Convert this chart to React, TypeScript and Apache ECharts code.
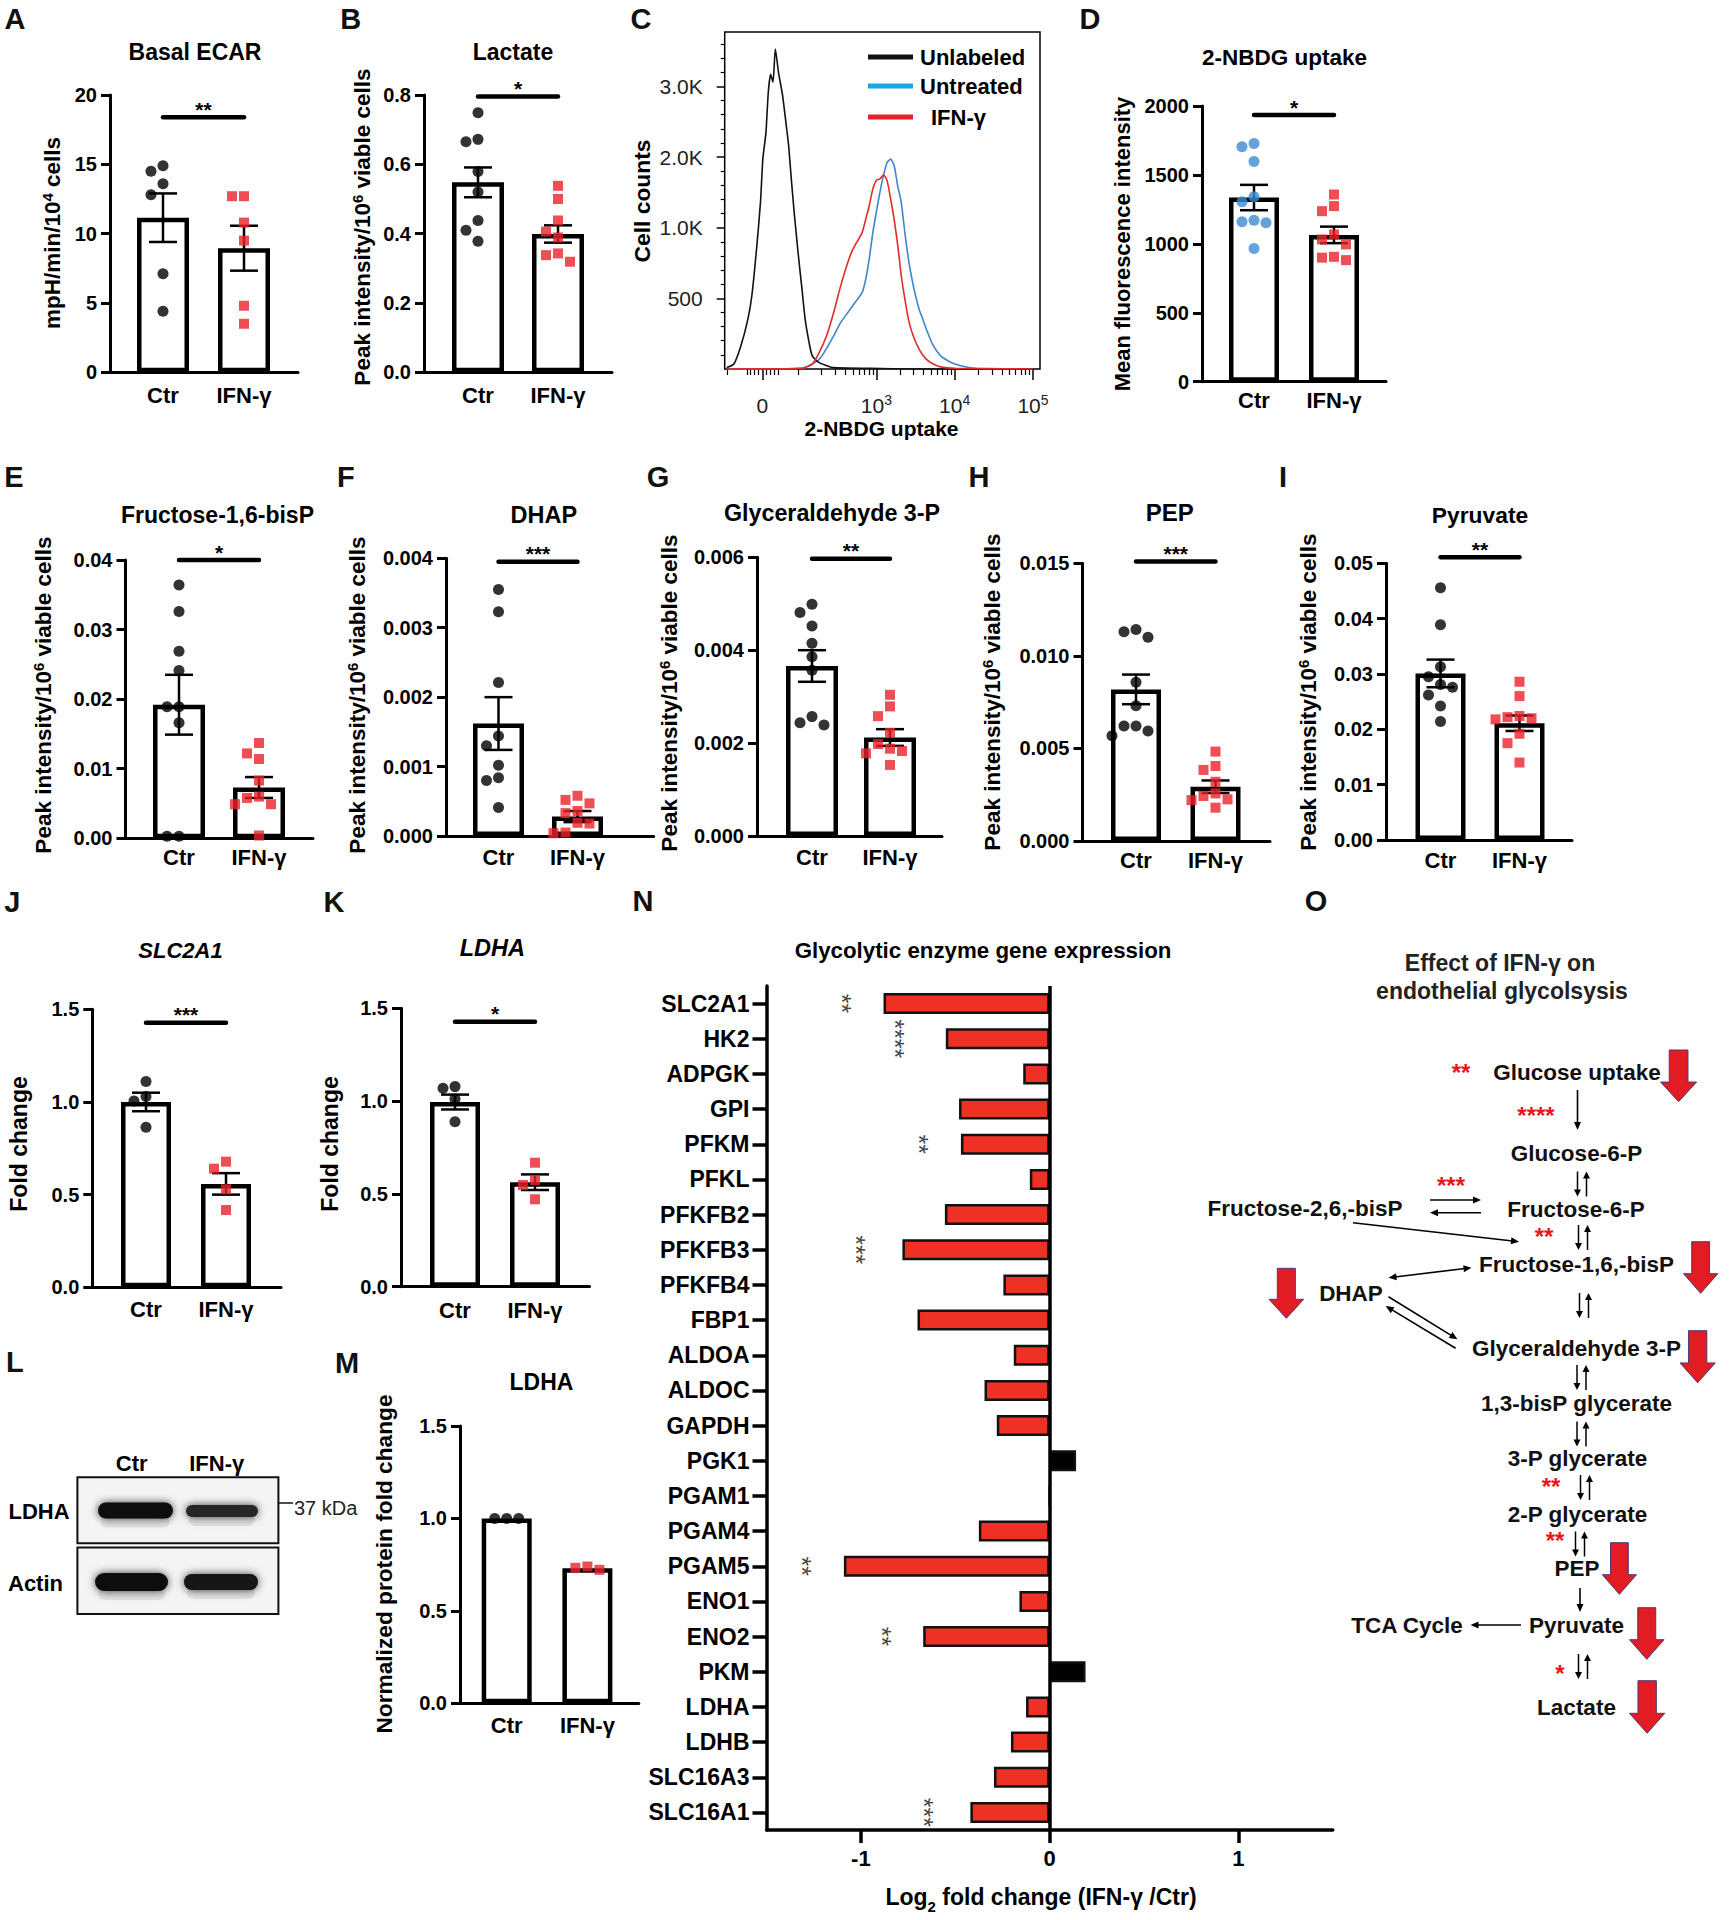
import React, { useEffect, useRef } from 'react';
import * as echarts from 'echarts';

const FONT = "'Liberation Sans', Arial, Helvetica, sans-serif";
const GROUPS = ['Ctr', 'IFN-\u03b3'];

// ---------- A: Basal ECAR ----------
const A_CTR = [14.9, 14.5, 13.6, 12.8, 7.1, 4.4];
const A_IFN = [12.7, 12.7, 10.8, 9.5, 4.8, 3.5];
const A_MEAN = [11.15, 8.95];
const A_SEM = [1.75, 1.62];
// ---------- B: Lactate ----------
const B_CTR = [0.749, 0.672, 0.665, 0.579, 0.52, 0.438, 0.41, 0.378];
const B_IFN = [0.538, 0.5, 0.438, 0.406, 0.389, 0.343, 0.338, 0.319];
const B_MEAN = [0.548, 0.399];
const B_SEM = [0.043, 0.025];
// ---------- C: 2-NBDG histogram (display units) ----------
const UNL_X = [1.09, 1.18, 1.27, 1.36, 1.41, 1.47, 1.52, 1.55, 1.59, 1.62, 1.65, 1.68, 1.71, 1.75, 1.8, 1.85, 1.88, 1.91, 1.95, 2.0, 2.05, 2.09, 2.14, 2.18, 2.27, 2.36, 2.45, 2.91, 3.5, 4.2, 5.0];
const UNL_Y = [0.02, 0.07, 0.33, 0.71, 1.04, 1.7, 2.36, 2.97, 3.35, 3.92, 4.17, 4.06, 4.53, 4.2, 3.89, 3.44, 3.16, 2.74, 2.22, 1.65, 1.13, 0.71, 0.38, 0.19, 0.09, 0.05, 0.02, 0.01, 0.0, 0.0, 0.0];
const UNT_X = [1.09, 2.045, 2.273, 2.455, 2.545, 2.636, 2.727, 2.818, 2.864, 2.909, 2.955, 3.0, 3.045, 3.091, 3.136, 3.182, 3.227, 3.273, 3.318, 3.364, 3.409, 3.455, 3.5, 3.545, 3.591, 3.636, 3.727, 3.818, 3.909, 4.0, 4.182, 4.273, 5.0];
const UNT_Y = [0.0, 0.01, 0.14, 0.47, 0.66, 0.8, 0.94, 1.08, 1.27, 1.56, 1.93, 2.22, 2.5, 2.74, 2.92, 2.97, 2.88, 2.59, 2.36, 1.93, 1.56, 1.27, 1.04, 0.85, 0.71, 0.57, 0.33, 0.19, 0.12, 0.07, 0.02, 0.01, 0.0];
const IFN_X = [1.09, 2.045, 2.182, 2.273, 2.364, 2.455, 2.545, 2.636, 2.682, 2.727, 2.818, 2.864, 2.909, 2.955, 3.0, 3.045, 3.091, 3.136, 3.182, 3.227, 3.273, 3.318, 3.364, 3.409, 3.455, 3.545, 3.636, 3.727, 3.818, 4.0, 5.0];
const IFN_Y = [0.0, 0.01, 0.07, 0.24, 0.47, 0.8, 1.18, 1.51, 1.65, 1.75, 1.93, 2.12, 2.31, 2.55, 2.67, 2.69, 2.75, 2.67, 2.41, 2.12, 1.75, 1.32, 0.99, 0.71, 0.52, 0.28, 0.14, 0.07, 0.03, 0.01, 0.0];
const C_X_MAJOR = [1.545, 3, 4, 5];
const C_X_LABELS = ['{b|0}', '{b|10}{s|3}', '{b|10}{s|4}', '{b|10}{s|5}'];
const C_Y_MAJOR = [1, 2, 3, 4];
const C_Y_LABELS = ['500', '1.0K', '2.0K', '3.0K'];
const C_LEGEND = ['Unlabeled', 'Untreated', 'IFN-\u03b3'];
// ---------- D: 2-NBDG uptake ----------
const D_CTR = [1728, 1705, 1598, 1341, 1305, 1172, 1160, 1153, 967];
const D_IFN = [1358, 1274, 1237, 1068, 1032, 996, 906, 900, 882];
const D_MEAN = [1336, 1065];
const D_SEM = [92, 60];
// ---------- E: Fructose-1,6-bisP ----------
const E_CTR = [0.0364, 0.0326, 0.0269, 0.0241, 0.0189, 0.0189, 0.0166, 0.0003, 0.0003];
const E_IFN = [0.0137, 0.0122, 0.0114, 0.0083, 0.006, 0.0058, 0.0049, 0.0049, 0.0004];
const E_MEAN = [0.0192, 0.0073];
const E_SEM = [0.0043, 0.0015];
// ---------- F: DHAP ----------
const F_CTR = [0.00355, 0.00323, 0.00221, 0.00144, 0.0013, 0.00102, 0.00084, 0.0008, 0.00041];
const F_IFN = [0.00058, 0.00052, 0.00047, 0.00036, 0.00033, 0.00019, 0.00018, 0.00005, 0.00004];
const F_MEAN = [0.00162, 0.00028];
const F_SEM = [0.00038, 0.00008];
// ---------- G: Glyceraldehyde 3-P ----------
const G_CTR = [0.00499, 0.00481, 0.00452, 0.00415, 0.00386, 0.00357, 0.00257, 0.00244, 0.00239];
const G_IFN = [0.00304, 0.00279, 0.00258, 0.00222, 0.00198, 0.00188, 0.00183, 0.00178, 0.00153];
const G_MEAN = [0.00366, 0.00212];
const G_SEM = [0.00034, 0.00018];
// ---------- H: PEP ----------
const H_CTR = [0.01143, 0.0113, 0.011, 0.00857, 0.00731, 0.00621, 0.00621, 0.00594, 0.00569];
const H_IFN = [0.00483, 0.00405, 0.00384, 0.0032, 0.00257, 0.00243, 0.00225, 0.00221, 0.0018];
const H_MEAN = [0.00819, 0.00293];
const H_SEM = [0.0008, 0.00034];
// ---------- I: Pyruvate ----------
const I_CTR = [0.0456, 0.0389, 0.0313, 0.0295, 0.0281, 0.0276, 0.0262, 0.0242, 0.0214];
const I_IFN = [0.0286, 0.026, 0.0224, 0.0222, 0.022, 0.0218, 0.0192, 0.0175, 0.014];
const I_MEAN = [0.0301, 0.0211];
const I_SEM = [0.0025, 0.0014];
// ---------- J: SLC2A1 ----------
const J_CTR = [1.11, 1.029, 1.005, 0.863];
const J_IFN = [0.678, 0.64, 0.529, 0.417];
const J_MEAN = [1.0, 0.558];
const J_SEM = [0.05, 0.058];
// ---------- K: LDHA ----------
const K_CTR = [1.078, 1.069, 1.011, 0.889];
const K_IFN = [0.668, 0.575, 0.548, 0.471];
const K_MEAN = [0.995, 0.563];
const K_SEM = [0.04, 0.042];
// ---------- M: LDHA protein ----------
const M_CTR = [1.0, 1.0, 1.0];
const M_IFN = [0.722, 0.74, 0.733];
const M_MEAN = [1.0, 0.73];
// ---------- N: gene expression ----------
const GENES = ['SLC2A1', 'HK2', 'ADPGK', 'GPI', 'PFKM', 'PFKL', 'PFKFB2', 'PFKFB3', 'PFKFB4', 'FBP1', 'ALDOA', 'ALDOC', 'GAPDH', 'PGK1', 'PGAM1', 'PGAM4', 'PGAM5', 'ENO1', 'ENO2', 'PKM', 'LDHA', 'LDHB', 'SLC16A3', 'SLC16A1'];
const GENE_LOG2FC = [-0.88, -0.55, -0.14, -0.48, -0.47, -0.105, -0.555, -0.78, -0.245, -0.7, -0.19, -0.345, -0.28, 0.14, 0, -0.375, -1.09, -0.16, -0.67, 0.19, -0.125, -0.205, -0.295, -0.42];
const GENE_SIG = ['**', '****', '', '', '**', '', '', '***', '', '', '', '', '', '', '', '', '**', '', '**', '', '', '', '', '***'];
const N_TICKS = [-1, 0, 1];

// ---------- panel definitions ----------
const PANELS: any[] = [
  { ctr: A_CTR, ifn: A_IFN, mean: A_MEAN, sem: A_SEM, yMax: 20, yInt: 5, dec: 0, sig: 18.4, stars: '**', dot: '#000',
    box: { left: 110, right: 298, top: 95, bottom: 372.3, ctrX: 163, ifnX: 244, barW: 52, labelY: 395 } },
  { ctr: B_CTR, ifn: B_IFN, mean: B_MEAN, sem: B_SEM, yMax: 0.8, yInt: 0.2, dec: 1, sig: 0.796, stars: '*', dot: '#000',
    box: { left: 424, right: 612, top: 95, bottom: 372.3, ctrX: 478, ifnX: 558, barW: 52, labelY: 395 } },
  { ctr: D_CTR, ifn: D_IFN, mean: D_MEAN, sem: D_SEM, yMax: 2000, yInt: 500, dec: 0, sig: 1934, stars: '*', dot: '#3d8bd3',
    box: { left: 1202, right: 1386, top: 106, bottom: 381.7, ctrX: 1254, ifnX: 1334, barW: 50, labelY: 400 } },
  { ctr: E_CTR, ifn: E_IFN, mean: E_MEAN, sem: E_SEM, yMax: 0.04, yInt: 0.01, dec: 2, sig: 0.04, stars: '*', dot: '#000',
    box: { left: 125.5, right: 313, top: 560, bottom: 838.3, ctrX: 179, ifnX: 259, barW: 52, labelY: 857 } },
  { ctr: F_CTR, ifn: F_IFN, mean: F_MEAN, sem: F_SEM, yMax: 0.004, yInt: 0.001, dec: 3, sig: 0.00395, stars: '***', dot: '#000',
    box: { left: 446, right: 653.6, top: 558.3, bottom: 836, ctrX: 498.5, ifnX: 577.5, barW: 51, labelY: 857 } },
  { ctr: G_CTR, ifn: G_IFN, mean: G_MEAN, sem: G_SEM, yMax: 0.006, yInt: 0.002, dec: 3, sig: 0.00597, stars: '**', dot: '#000',
    box: { left: 757, right: 942, top: 557.3, bottom: 836, ctrX: 812, ifnX: 890, barW: 52, labelY: 857 } },
  { ctr: H_CTR, ifn: H_IFN, mean: H_MEAN, sem: H_SEM, yMax: 0.015, yInt: 0.005, dec: 3, sig: 0.0151, stars: '***', dot: '#000',
    box: { left: 1082.5, right: 1270, top: 563.3, bottom: 841, ctrX: 1136, ifnX: 1215.5, barW: 50, labelY: 860 } },
  { ctr: I_CTR, ifn: I_IFN, mean: I_MEAN, sem: I_SEM, yMax: 0.05, yInt: 0.01, dec: 2, sig: 0.0511, stars: '**', dot: '#000',
    box: { left: 1386, right: 1572, top: 563.3, bottom: 840, ctrX: 1440.5, ifnX: 1519.5, barW: 50, labelY: 860 } },
  { ctr: J_CTR, ifn: J_IFN, mean: J_MEAN, sem: J_SEM, yMax: 1.5, yInt: 0.5, dec: 1, sig: 1.428, stars: '***', dot: '#000',
    box: { left: 92.3, right: 281, top: 1009.3, bottom: 1287.3, ctrX: 146, ifnX: 226, barW: 50, labelY: 1309 } },
  { ctr: K_CTR, ifn: K_IFN, mean: K_MEAN, sem: K_SEM, yMax: 1.5, yInt: 0.5, dec: 1, sig: 1.428, stars: '*', dot: '#000',
    box: { left: 401, right: 589.5, top: 1008.3, bottom: 1286.7, ctrX: 455, ifnX: 535, barW: 50, labelY: 1310 } },
  { ctr: M_CTR, ifn: M_IFN, mean: M_MEAN, sem: null, yMax: 1.5, yInt: 0.5, dec: 1, sig: null, stars: '', dot: '#000',
    box: { left: 460, right: 638.8, top: 1426, bottom: 1703.3, ctrX: 506.7, ifnX: 587.4, barW: 50, labelY: 1725 } },
];

const RED = '#e8232a';

// beeswarm placement: offsets (in x data units) so symbols do not overlap
function swarmOffsets(vals: number[], pxPerUnit: number, sym: number, spacingPx: number) {
  const order = vals.map((_, i) => i).sort((a, b) => vals[b] - vals[a]);
  const placed: { x: number; y: number }[] = [];
  const offs = new Array(vals.length).fill(0);
  const step = sym + 1;
  order.forEach((i) => {
    const y = vals[i] * pxPerUnit;
    for (let k = 0; k < 40; k++) {
      const m = Math.ceil(k / 2) * (k % 2 === 1 ? -1 : 1);
      const x = m * step;
      if (placed.every((p) => Math.hypot(p.x - x, p.y - y) >= sym + 0.5)) {
        placed.push({ x, y });
        offs[i] = x / spacingPx;
        break;
      }
    }
  });
  return offs;
}

function addDotPanel(opt: any, p: any) {
  const gi = opt.grid.length;
  const xi = opt.xAxis.length;
  const yi = opt.yAxis.length;
  const b = p.box;
  const sp = b.ifnX - b.ctrX;
  const xmin = -(b.ctrX - b.left) / sp;
  const xmax = 1 + (b.right - b.ifnX) / sp;
  opt.grid.push({ left: b.left, top: b.top, width: b.right - b.left, height: b.bottom - b.top });
  opt.xAxis.push({
    gridIndex: gi, type: 'value', min: xmin, max: xmax, position: 'bottom',
    axisLine: { show: true, onZero: false, lineStyle: { color: '#000', width: 3 } },
    axisTick: { show: false }, splitLine: { show: false },
    axisLabel: { customValues: [0, 1], formatter: (v: number) => GROUPS[Math.round(v)], color: '#000', fontFamily: FONT, fontWeight: 'bold', fontSize: 22, margin: b.labelY - b.bottom - 11 },
  });
  opt.yAxis.push({
    gridIndex: gi, type: 'value', min: 0, max: p.yMax, interval: p.yInt, position: 'left',
    axisLine: { show: true, onZero: false, lineStyle: { color: '#000', width: 3 } },
    axisTick: { show: true, length: 9, lineStyle: { color: '#000', width: 3 } },
    splitLine: { show: false },
    axisLabel: { formatter: (v: number) => v.toFixed(p.dec), color: '#000', fontFamily: FONT, fontWeight: 'bold', fontSize: 20, margin: 13 },
  });
  const ax = { xAxisIndex: xi, yAxisIndex: yi };
  opt.series.push({
    type: 'bar', ...ax, barWidth: b.barW, silent: true, z: 2,
    data: [[0, p.mean[0]], [1, p.mean[1]]],
    itemStyle: { color: '#fff', borderColor: '#000', borderWidth: 4.5 },
  });
  if (p.sem) {
    opt.series.push({
      type: 'custom', ...ax, silent: true, z: 3, clip: false,
      data: [0, 1].map((k) => [k, p.mean[k] - p.sem[k], p.mean[k] + p.sem[k]]),
      encode: { x: 0, y: [1, 2] },
      renderItem: (params: any, api: any) => {
        const x = api.value(0);
        const a = api.coord([x, api.value(1)]);
        const c = api.coord([x, api.value(2)]);
        const st = { stroke: '#000', lineWidth: 2.5 };
        return {
          type: 'group', children: [
            { type: 'line', shape: { x1: a[0], y1: a[1], x2: c[0], y2: c[1] }, style: st },
            { type: 'line', shape: { x1: a[0] - 14, y1: a[1], x2: a[0] + 14, y2: a[1] }, style: st },
            { type: 'line', shape: { x1: c[0] - 14, y1: c[1], x2: c[0] + 14, y2: c[1] }, style: st },
          ],
        };
      },
    });
  }
  const pxPerUnit = (b.bottom - b.top) / p.yMax;
  const oc = swarmOffsets(p.ctr, pxPerUnit, 11, sp);
  const oi = swarmOffsets(p.ifn, pxPerUnit, 11, sp);
  opt.series.push({
    type: 'scatter', ...ax, silent: true, z: 4, symbol: 'circle', symbolSize: 11,
    itemStyle: { color: p.dot }, data: p.ctr.map((v: number, i: number) => [oc[i], v]),
  });
  opt.series.push({
    type: 'scatter', ...ax, silent: true, z: 4, symbol: 'rect', symbolSize: 10,
    itemStyle: { color: RED }, data: p.ifn.map((v: number, i: number) => [1 + oi[i], v]),
  });
  if (p.sig != null) {
    opt.series.push({
      type: 'custom', ...ax, silent: true, z: 3, clip: false,
      data: [[0, 1, p.sig]],
      renderItem: (params: any, api: any) => {
        const a = api.coord([api.value(0), api.value(2)]);
        const c = api.coord([api.value(1), api.value(2)]);
        return {
          type: 'group', children: [
            { type: 'line', shape: { x1: a[0], y1: a[1], x2: c[0], y2: c[1] }, style: { stroke: '#000', lineWidth: 4.5, lineCap: 'round' } },
            { type: 'text', x: (a[0] + c[0]) / 2, y: a[1] - 8, style: { text: p.stars, fill: '#000', fontSize: 21, fontWeight: 'bold', fontFamily: FONT, align: 'center', verticalAlign: 'middle' } },
          ],
        };
      },
    });
  }
}

function txt(x: number, y: number, text: string, size: number, o: any = {}) {
  return {
    type: 'text', x, y, rotation: o.rot || 0, silent: true, z: 10,
    style: {
      text, fontSize: size, fontFamily: FONT, fontWeight: o.weight || 'bold', fontStyle: o.italic ? 'italic' : 'normal',
      fill: o.color || '#000', align: o.align || 'center', verticalAlign: 'middle',
    },
  };
}

function supLabel(x: number, y: number, a: string, s: string, c: string, size: number) {
  return {
    type: 'text', x, y, rotation: Math.PI / 2, silent: true, z: 10,
    style: {
      text: `{m|${a}}{s|${s}}{m|${c}}`, align: 'center', verticalAlign: 'middle', fill: '#000',
      rich: {
        m: { fontSize: size, fontWeight: 'bold', fontFamily: FONT, fill: '#000', lineHeight: 25, verticalAlign: 'middle' },
        s: { fontSize: Math.round(size * 0.65), fontWeight: 'bold', fontFamily: FONT, fill: '#000', lineHeight: 16, verticalAlign: 'top' },
      },
    },
  };
}

function arrowEls(x1: number, y1: number, x2: number, y2: number, o: any = {}) {
  const w = o.w || 1.6, hl = o.hl || 8, hw = o.hw || 3.5, both = !!o.both;
  const dx = x2 - x1, dy = y2 - y1, L = Math.hypot(dx, dy);
  const ux = dx / L, uy = dy / L, nx = -uy, ny = ux;
  const head = (tx: number, ty: number, sx: number, sy: number) => ({
    type: 'polygon', silent: true, z: 10,
    shape: { points: [[tx, ty], [tx - sx * hl + nx * hw, ty - sy * hl + ny * hw], [tx - sx * hl - nx * hw, ty - sy * hl - ny * hw]] },
    style: { fill: '#000' },
  });
  const sx = both ? x1 + ux * hl * 0.8 : x1, sy = both ? y1 + uy * hl * 0.8 : y1;
  const ex = x2 - ux * hl * 0.8, ey = y2 - uy * hl * 0.8;
  const els: any[] = [{ type: 'line', silent: true, z: 10, shape: { x1: sx, y1: sy, x2: ex, y2: ey }, style: { stroke: '#000', lineWidth: w } }, head(x2, y2, ux, uy)];
  if (both) els.push(head(x1, y1, -ux, -uy));
  return els;
}

function updown(cx: number, cy: number) {
  return [
    ...arrowEls(cx - 4.5, cy - 12.5, cx - 4.5, cy + 12.5, { hl: 7, hw: 3.5, w: 1.5 }),
    ...arrowEls(cx + 4.5, cy + 12.5, cx + 4.5, cy - 12.5, { hl: 7, hw: 3.5, w: 1.5 }),
  ];
}

function blockArrow(x0: number, x1: number, y0: number, y1: number) {
  const w = x1 - x0, h = y1 - y0;
  const s0 = x0 + w * 0.24, s1 = x1 - w * 0.24, hy = y1 - h * 0.38, mid = (x0 + x1) / 2;
  return {
    type: 'polygon', silent: true, z: 10,
    shape: { points: [[s0, y0], [s1, y0], [s1, hy], [x1, hy], [mid, y1], [x0, hy], [s0, hy]] },
    style: { fill: '#e31b23', stroke: '#4b3b78', lineWidth: 1 },
  };
}

function band(x: number, y: number, w: number, h: number, color: string) {
  return [
    { type: 'rect', silent: true, z: 9, shape: { x: x + 3, y: y + h - 3, width: w - 6, height: 12, r: 6 }, style: { fill: 'rgba(0,0,0,0.08)', shadowBlur: 10, shadowColor: 'rgba(0,0,0,0.2)' } },
    { type: 'rect', silent: true, z: 10, shape: { x, y, width: w, height: h, r: h / 2 }, style: { fill: color, shadowBlur: 9, shadowColor: 'rgba(0,0,0,0.75)' } },
  ];
}

function buildOption() {
  const opt: any = { animation: false, backgroundColor: '#fff', grid: [], xAxis: [], yAxis: [], series: [], graphic: [] };

  PANELS.forEach((p) => addDotPanel(opt, p));

  // ---------- C histogram ----------
  const gC = opt.grid.length;
  opt.grid.push({ left: 724.7, top: 32, width: 315.3, height: 337, show: true, borderColor: '#000', borderWidth: 1.5, backgroundColor: 'rgba(0,0,0,0)' });
  const xMinor: number[] = [];
  [2, 3, 4].forEach((d) => { for (let k = 1; k <= 9; k++) { const u = d + Math.log10(k); if (!C_X_MAJOR.includes(u)) xMinor.push(u); } });
  [1, 2, 3, 4].forEach((k) => { xMinor.push(1.545 + k * 0.05); xMinor.push(1.545 - k * 0.05); });
  xMinor.push(1.09);
  const yMinor: number[] = [];
  for (let k = 1; k <= 23; k++) { if (k % 5 !== 0) yMinor.push(k * 0.2); }
  const cxBase = { gridIndex: gC, type: 'value', min: 1.063, max: 5.09, position: 'bottom', splitLine: { show: false }, axisLine: { show: false, onZero: false } };
  const cxMajorIdx = opt.xAxis.length;
  opt.xAxis.push({
    ...cxBase,
    axisTick: { show: true, customValues: C_X_MAJOR, length: 11, lineStyle: { color: '#000', width: 1.5 } },
    axisLabel: {
      customValues: C_X_MAJOR, margin: 24, color: '#222',
      formatter: (v: number) => C_X_LABELS[C_X_MAJOR.findIndex((m) => Math.abs(m - v) < 1e-6)] || '',
      rich: {
        b: { fontSize: 21, fontFamily: FONT, color: '#222', lineHeight: 24, verticalAlign: 'middle' },
        s: { fontSize: 14, fontFamily: FONT, color: '#222', lineHeight: 16, verticalAlign: 'top' },
      },
    },
  });
  opt.xAxis.push({ ...cxBase, axisTick: { show: true, customValues: xMinor, length: 6, lineStyle: { color: '#000', width: 1.2 } }, axisLabel: { show: false } });
  const cyBase = { gridIndex: gC, type: 'value', min: 0, max: 4.77, position: 'left', splitLine: { show: false }, axisLine: { show: false, onZero: false } };
  const cyMajorIdx = opt.yAxis.length;
  opt.yAxis.push({
    ...cyBase,
    axisTick: { show: true, customValues: C_Y_MAJOR, length: 8, lineStyle: { color: '#000', width: 1.5 } },
    axisLabel: { customValues: C_Y_MAJOR, formatter: (v: number) => C_Y_LABELS[Math.round(v) - 1] || '', fontSize: 21, fontFamily: FONT, color: '#222', margin: 22 },
  });
  opt.yAxis.push({ ...cyBase, axisTick: { show: true, customValues: yMinor, length: 4, lineStyle: { color: '#000', width: 1.2 } }, axisLabel: { show: false } });
  const curve = (xs: number[], ys: number[], color: string, z: number) => ({
    type: 'line', xAxisIndex: cxMajorIdx, yAxisIndex: cyMajorIdx, silent: true, z, symbol: 'none', smooth: 0.2,
    lineStyle: { color, width: 1.6 }, data: xs.map((x, i) => [x, ys[i]]),
  });
  opt.series.push(curve(UNL_X, UNL_Y, '#111', 5));
  opt.series.push(curve(UNT_X, UNT_Y, '#3f86cc', 4));
  opt.series.push(curve(IFN_X, IFN_Y, '#e32a2a', 5));

  // ---------- N horizontal bars ----------
  const gN = opt.grid.length;
  const nxi = opt.xAxis.length;
  const nyi = opt.yAxis.length;
  opt.grid.push({ left: 766.5, top: 986, width: 566.3, height: 844 });
  opt.xAxis.push({
    gridIndex: gN, type: 'value', min: -1.5, max: 1.5, position: 'bottom', splitLine: { show: false },
    axisLine: { show: true, onZero: false, lineStyle: { color: '#000', width: 3.5 } },
    axisTick: { show: true, customValues: N_TICKS, length: 13, lineStyle: { color: '#000', width: 3.5 } },
    axisLabel: { customValues: N_TICKS, fontSize: 22, fontWeight: 'bold', fontFamily: FONT, color: '#000', margin: 17 },
  });
  opt.yAxis.push({
    gridIndex: gN, type: 'category', data: GENES, inverse: true, position: 'left', splitLine: { show: false },
    axisLine: { show: true, onZero: false, lineStyle: { color: '#000', width: 3.5 } },
    axisTick: { show: true, alignWithLabel: true, interval: 0, length: 14, lineStyle: { color: '#000', width: 3.5 } },
    axisLabel: { interval: 0, fontSize: 23, fontWeight: 'bold', fontFamily: FONT, color: '#000', margin: 17 },
  });
  opt.series.push({
    type: 'bar', xAxisIndex: nxi, yAxisIndex: nyi, barWidth: 21, silent: true, z: 3,
    itemStyle: { color: '#ee3124', borderColor: '#111', borderWidth: 2.5 },
    data: GENE_LOG2FC.map((v) => (v > 0 ? { value: v, itemStyle: { color: '#000' } } : { value: v })),
    markLine: { silent: true, symbol: ['none', 'none'], label: { show: false }, lineStyle: { color: '#000', width: 3.5, type: 'solid' }, data: [{ xAxis: 0 }] },
  });
  opt.series.push({
    type: 'scatter', xAxisIndex: nxi, yAxisIndex: nyi, silent: true, z: 5, symbolSize: 1, itemStyle: { color: 'rgba(0,0,0,0)' },
    label: { show: true, position: 'inside', rotate: -90, fontSize: 25, fontFamily: FONT, color: '#111' },
    data: GENES.map((g, i) => (GENE_SIG[i] ? { value: [GENE_LOG2FC[i] - (0.17 + 0.025 * GENE_SIG[i].length), g], label: { formatter: GENE_SIG[i] } } : null)).filter(Boolean),
  });

  // ---------- graphic: letters, titles, axis names ----------
  const G: any[] = [];
  const letters: [string, number, number][] = [
    ['A', 15, 19], ['B', 350.6, 19], ['C', 641, 19], ['D', 1090, 19],
    ['E', 14, 477], ['F', 345.8, 477], ['G', 658, 477], ['H', 979, 477], ['I', 1283, 477],
    ['J', 12.3, 902], ['K', 334, 902], ['N', 643, 901], ['O', 1316, 901], ['L', 14.8, 1362], ['M', 347, 1363],
  ];
  letters.forEach(([t, x, y]) => G.push(txt(x, y, t, 29, { color: '#111' })));
  G.push(txt(195, 52, 'Basal ECAR', 23));
  G.push(txt(513, 52, 'Lactate', 23));
  G.push(txt(1284.5, 57, '2-NBDG uptake', 22.5));
  G.push(txt(217.5, 515, 'Fructose-1,6-bisP', 23));
  G.push(txt(543.8, 515, 'DHAP', 23.5));
  G.push(txt(832, 513, 'Glyceraldehyde 3-P', 23.3));
  G.push(txt(1169.7, 512, 'PEP', 24));
  G.push(txt(1480, 515, 'Pyruvate', 22.8));
  G.push(txt(180.5, 950, 'SLC2A1', 22, { italic: true }));
  G.push(txt(492.3, 948, 'LDHA', 23.5, { italic: true }));
  G.push(txt(541.5, 1382, 'LDHA', 23));
  G.push(txt(983, 950, 'Glycolytic enzyme gene expression', 22.3));

  G.push(supLabel(52, 233, 'mpH/min/10', '4', ' cells', 22.5));
  G.push(supLabel(362, 227, 'Peak intensity/10', '6', ' viable cells', 22.5));
  G.push(txt(641.5, 201, 'Cell counts', 22.8, { rot: Math.PI / 2 }));
  G.push(txt(881.5, 428, '2-NBDG uptake', 21));
  G.push(txt(1122, 244, 'Mean fluorescence intensity', 22, { rot: Math.PI / 2 }));
  [[43.5, 695], [357, 695], [669, 693], [992.5, 692], [1308.7, 692]].forEach(([x, y]) => G.push(supLabel(x, y, 'Peak intensity/10', '6', ' viable cells', 22.5)));
  G.push(txt(18.5, 1144, 'Fold change', 23, { rot: Math.PI / 2 }));
  G.push(txt(330, 1144, 'Fold change', 23, { rot: Math.PI / 2 }));
  G.push(txt(384, 1564, 'Normalized protein fold change', 22.7, { rot: Math.PI / 2 }));
  G.push({
    type: 'text', x: 1041, y: 1900, silent: true, z: 10,
    style: {
      text: '{m|Log}{s|2}{m| fold change (IFN-\u03b3 /Ctr)}', align: 'center', verticalAlign: 'middle', fill: '#000',
      rich: {
        m: { fontSize: 23, fontWeight: 'bold', fontFamily: FONT, fill: '#000', lineHeight: 28.5, verticalAlign: 'top' },
        s: { fontSize: 15, fontWeight: 'bold', fontFamily: FONT, fill: '#000', lineHeight: 15, verticalAlign: 'bottom' },
      },
    },
  });

  // C legend
  const legColors = ['#111', '#1aa7e8', '#e8202a'];
  const legY = [57, 86, 117];
  const legX = [920, 920, 931];
  C_LEGEND.forEach((t, i) => {
    G.push({ type: 'line', silent: true, z: 10, shape: { x1: 868, y1: legY[i], x2: 913, y2: legY[i] }, style: { stroke: legColors[i], lineWidth: 5 } });
    G.push(txt(legX[i], legY[i], t, 22, { align: 'left' }));
  });

  // ---------- L: western blot ----------
  G.push(txt(131.7, 1463, 'Ctr', 22));
  G.push(txt(216.7, 1463, 'IFN-\u03b3', 22));
  G.push({ type: 'rect', silent: true, z: 8, shape: { x: 77.4, y: 1477.3, width: 201, height: 66 }, style: { fill: '#f4f4f4', stroke: '#111', lineWidth: 2 } });
  G.push({ type: 'rect', silent: true, z: 8, shape: { x: 77.4, y: 1547.5, width: 201, height: 66.5 }, style: { fill: '#f4f4f4', stroke: '#111', lineWidth: 2 } });
  G.push(...band(98, 1502.5, 75, 16, '#0a0a0a'));
  G.push(...band(186, 1505, 72, 12, '#262626'));
  G.push(...band(95, 1573, 73, 18, '#0a0a0a'));
  G.push(...band(184, 1574, 74, 16, '#121212'));
  G.push(txt(39, 1511.7, 'LDHA', 22));
  G.push(txt(35.5, 1583, 'Actin', 22));
  G.push({ type: 'line', silent: true, z: 10, shape: { x1: 279, y1: 1503, x2: 293, y2: 1503 }, style: { stroke: '#111', lineWidth: 1.5 } });
  G.push(txt(294, 1508, '37 kDa', 20, { weight: 'normal', align: 'left', color: '#222' }));

  // ---------- O: pathway ----------
  G.push(txt(1500, 963, 'Effect of IFN-\u03b3 on', 23, { color: '#222' }));
  G.push(txt(1502, 991, 'endothelial glycolsysis', 23, { color: '#222' }));
  const nodes: [string, number, number][] = [
    ['Glucose uptake', 1577, 1072], ['Glucose-6-P', 1576.5, 1153], ['Fructose-2,6,-bisP', 1305, 1208], ['Fructose-6-P', 1576, 1209],
    ['Fructose-1,6,-bisP', 1576.5, 1264], ['DHAP', 1351, 1293], ['Glyceraldehyde 3-P', 1576.5, 1348], ['1,3-bisP glycerate', 1576.5, 1403],
    ['3-P glycerate', 1577.5, 1458], ['2-P glycerate', 1577.5, 1514], ['PEP', 1577, 1568], ['Pyruvate', 1576.5, 1625],
    ['TCA Cycle', 1407, 1625], ['Lactate', 1576.5, 1707],
  ];
  nodes.forEach(([t, x, y]) => G.push(txt(x, y, t, 22.5, { color: '#111' })));
  const redStars: [string, number, number][] = [
    ['**', 1461, 1067], ['****', 1536, 1110], ['***', 1451, 1180], ['**', 1544, 1231], ['**', 1551, 1481], ['**', 1555, 1535], ['*', 1560, 1668],
  ];
  redStars.forEach(([t, x, y]) => G.push(txt(x, y + 5.5, t, 24, { weight: 'bold', color: '#e8141b' })));
  G.push(...arrowEls(1577.5, 1090, 1577.5, 1130));
  [[1582, 1184], [1583, 1237.5], [1584, 1305.5], [1581.5, 1377.5], [1581.5, 1434], [1585, 1487.5], [1580, 1544], [1583, 1666.5]].forEach(([x, y]) => G.push(...updown(x, y)));
  G.push(...arrowEls(1430, 1200, 1481, 1200));
  G.push(...arrowEls(1481, 1212.7, 1430, 1212.7));
  G.push(...arrowEls(1353, 1222.7, 1519, 1241.7));
  G.push(...arrowEls(1388.5, 1277.7, 1471.5, 1267.7, { both: true }));
  G.push(...arrowEls(1388.5, 1296.7, 1457.4, 1339.3));
  G.push(...arrowEls(1455.6, 1348.3, 1385.7, 1306));
  G.push(...arrowEls(1580, 1588, 1580, 1612));
  G.push(...arrowEls(1521, 1625, 1470.5, 1625));
  [[1660.6, 1696.6, 1050, 1101.7], [1683.5, 1717.8, 1241.7, 1293.3], [1269, 1303.7, 1268.3, 1318.3], [1680, 1715.3, 1330.7, 1382.7],
    [1602.3, 1636.5, 1542.7, 1594.3], [1629.5, 1664, 1607.7, 1659.3], [1629.5, 1664.8, 1680.7, 1733.3]].forEach(([a, b, c, d]) => G.push(blockArrow(a, b, c, d)));

  opt.graphic = G;
  return opt;
}

export default function App() {
  const ref = useRef<HTMLDivElement>(null);
  useEffect(() => {
    if (!ref.current) return;
    const chart = echarts.init(ref.current, undefined, { renderer: 'svg' });
    chart.setOption(buildOption());
    return () => chart.dispose();
  }, []);
  return <div ref={ref} style={{ position: 'absolute', left: 0, top: 0, width: 1731, height: 1920, background: '#fff' }} />;
}
